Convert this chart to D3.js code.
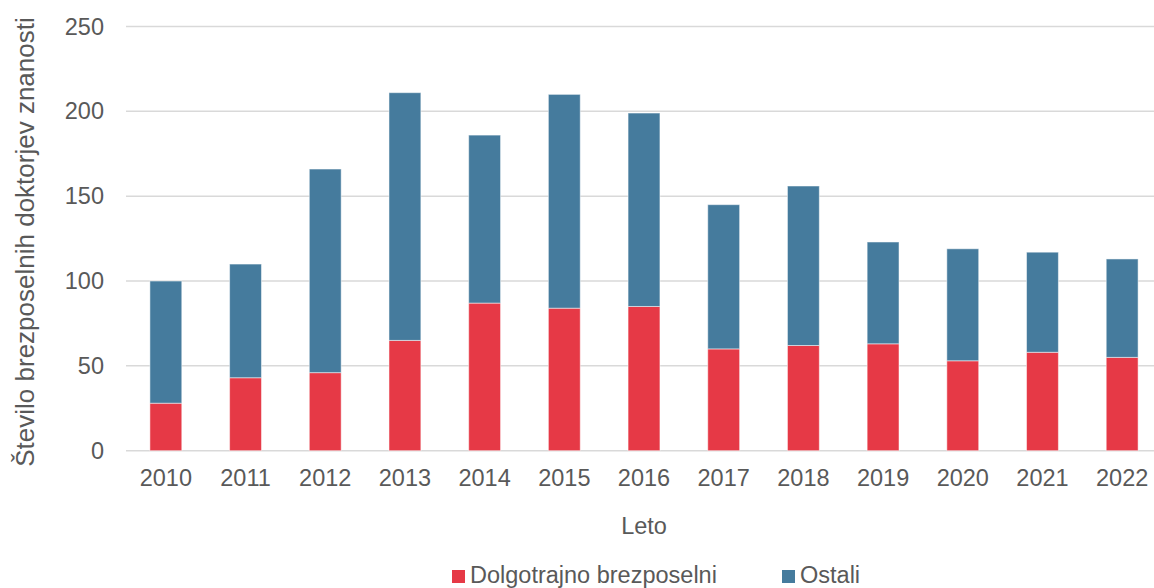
<!DOCTYPE html>
<html>
<head>
<meta charset="utf-8">
<script src="https://d3js.org/d3.v7.min.js"></script>
<style>
  body { margin: 0; background: #fff; }
  text { font-family: "Liberation Sans", Arial, sans-serif; fill: #595959; }
</style>
</head>
<body>
<svg id="viz" width="1154" height="588"></svg>
<script>
var years = ["2010","2011","2012","2013","2014","2015","2016","2017","2018","2019","2020","2021","2022"];
var dolgotrajno = [28, 43, 46, 65, 87, 84, 85, 60, 62, 63, 53, 58, 55];
var ostali = [72, 67, 120, 146, 99, 126, 114, 85, 94, 60, 66, 59, 58];
var seriesNames = ["Dolgotrajno brezposelni", "Ostali"];
var yTicks = [0, 50, 100, 150, 200, 250];

var colors = ["#e63946", "#457b9d"];
var width = 1154, height = 588;
// plot area (pixels)
var plotLeft = 126, plotRight = 1162, plotTop = 26.5, plotBottom = 450.7;

var svg = d3.select("#viz");

var x = d3.scaleBand().domain(years).range([plotLeft, plotRight]).paddingInner(0.6).paddingOuter(0.3);
var y = d3.scaleLinear().domain([0, 250]).range([plotBottom, plotTop]);

// gridlines
svg.append("g").selectAll("line").data(yTicks).enter().append("line")
    .attr("x1", plotLeft).attr("x2", width)
    .attr("y1", function(d) { return y(d); })
    .attr("y2", function(d) { return y(d); })
    .attr("stroke", "#d9d9d9")
    .attr("stroke-width", 1.5);

// stacked bars
var rows = years.map(function(yr, i) {
  return { year: yr, d: dolgotrajno[i], o: ostali[i] };
});
var stack = d3.stack().keys(["d", "o"])(rows);

svg.append("g").selectAll("g").data(stack).enter().append("g")
    .attr("fill", function(d, i) { return colors[i]; })
  .selectAll("rect").data(function(d) { return d; }).enter().append("rect")
    .attr("x", function(d) { return x(d.data.year); })
    .attr("width", x.bandwidth())
    .attr("y", function(d) { return y(d[1]); })
    .attr("height", function(d) { return y(d[0]) - y(d[1]); })
    .attr("stroke", "rgba(255,255,255,0.5)")
    .attr("stroke-width", 1);

// y axis labels
var yAxis = d3.axisLeft(y).tickValues(yTicks).tickSize(0).tickPadding(22);
var gy = svg.append("g").attr("transform", "translate(" + plotLeft + ",0)").call(yAxis);
gy.select(".domain").remove();
gy.selectAll("text").style("font-size", "23.5px").attr("fill", "#595959").attr("font-family", "Liberation Sans, Arial, sans-serif");

// x axis labels
var xAxis = d3.axisBottom(x).tickSize(0).tickPadding(19);
var gx = svg.append("g").attr("transform", "translate(0," + plotBottom + ")").call(xAxis);
gx.select(".domain").remove();
gx.selectAll("text").style("font-size", "23.5px").attr("fill", "#595959").attr("font-family", "Liberation Sans, Arial, sans-serif");

// axis titles
svg.append("text")
    .attr("transform", "translate(34,242) rotate(-90)")
    .attr("text-anchor", "middle")
    .style("font-size", "26px")
    .text("Število brezposelnih doktorjev znanosti");

svg.append("text")
    .attr("x", (plotLeft + plotRight) / 2).attr("y", 534)
    .attr("text-anchor", "middle")
    .style("font-size", "23.5px")
    .text("Leto");

// legend
var legendX = [452, 782];
var lg = svg.append("g").selectAll("g").data(seriesNames).enter().append("g")
    .attr("transform", function(d, i) { return "translate(" + legendX[i] + ",570)"; });
lg.append("rect").attr("width", 13).attr("height", 13)
    .attr("fill", function(d, i) { return colors[i]; });
lg.append("text").attr("x", 18).attr("y", 13)
    .style("font-size", "23.5px")
    .text(function(d) { return d; });
</script>
</body>
</html>
